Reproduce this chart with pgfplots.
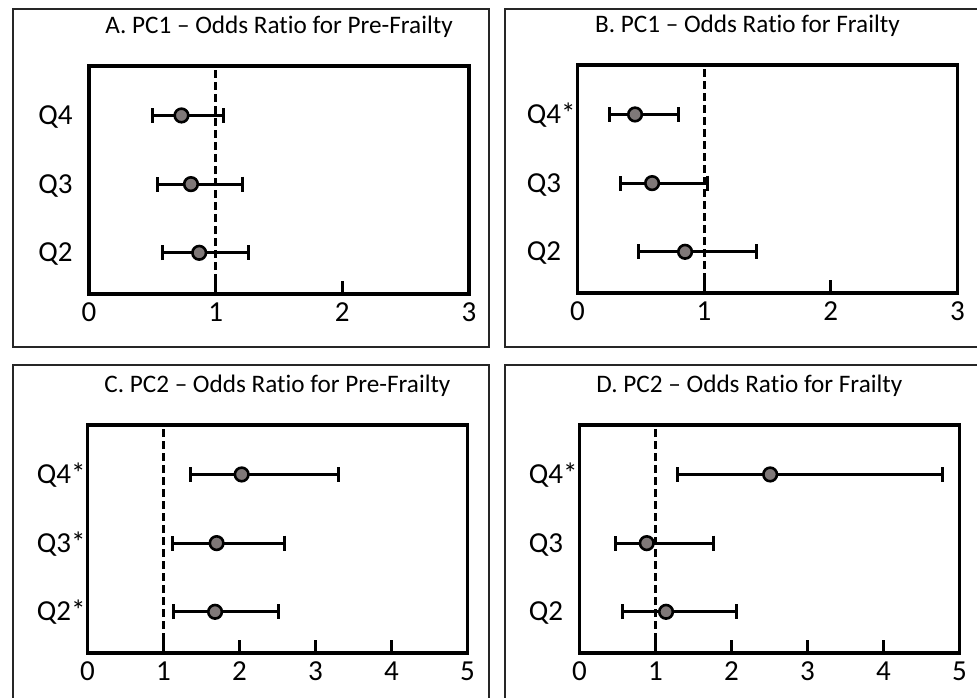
\documentclass[border=0pt]{standalone}
\usepackage{pgfplots}
\pgfplotsset{compat=1.18}
\usepackage{pgfplotstable}
\usepackage{fontspec}
\setmainfont[Ligatures=NoCommon]{Carlito}

\definecolor{markgray}{HTML}{7F7878}

% q = row (1 = Q2, 2 = Q3, 3 = Q4), or = odds ratio, lo/hi = 95% CI
\pgfplotstableread{
q  or    lo    hi
3  0.73  0.50  1.06
2  0.805 0.54  1.21
1  0.87  0.58  1.26
}\dataA
\pgfplotstableread{
q  or    lo    hi
3  0.455 0.25  0.80
2  0.59  0.34  1.03
1  0.85  0.48  1.41
}\dataB
\pgfplotstableread{
q  or    lo    hi
3  2.03  1.35  3.31
2  1.70  1.12  2.60
1  1.68  1.13  2.52
}\dataC
\pgfplotstableread{
q  or    lo    hi
3  2.51  1.29  4.78
2  0.886 0.48  1.77
1  1.14  0.57  2.07
}\dataD

\pgfplotsset{
  forest/.style={
    scale only axis,
    width=190pt, height=114pt,
    anchor=south west,
    axis line style={line width=1.6pt},
    ymin=0.4, ymax=3.72,
    xmin=0,
    ytick={1,2,3},
    ytick style={draw=none},
    xtick pos=left,
    tick align=inside,
    major tick length=6.5pt,
    xtick style={line width=1.5pt, black},
    tick label style={font=\fontsize{14.5}{16}\selectfont},
    yticklabel style={anchor=base west, inner sep=0pt, xshift=-25.5pt, yshift=-4.5pt},
    xticklabel style={anchor=base, inner sep=0pt, yshift=-13.8pt},
    /pgf/number format/assume math mode=true,
    title style={font=\fontsize{12.6}{14}\selectfont, at={(0.5,1)}, anchor=base, yshift=10.2pt},
    clip=false,
  },
  ci/.style={
    only marks,
    mark=*,
    mark size=3.4pt,
    mark options={fill=markgray, draw=black, line width=1.3pt},
    error bars/.cd,
      x dir=both, x explicit,
      error mark=|,
      error bar style={line width=1.6pt, black},
      error mark options={line width=1.5pt, black, mark size=3.7pt},
  },
  refline/.style={black, line width=1.5pt, dash pattern=on 4pt off 2pt, forget plot},
}

\newcommand{\ciplot}[1]{%
  \addplot[ci] table[x=or, y=q,
    x error plus expr=\thisrow{hi}-\thisrow{or},
    x error minus expr=\thisrow{or}-\thisrow{lo}] {#1};}

\begin{document}
\begin{tikzpicture}[x=1pt, y=1pt]
\useasboundingbox (0,0) rectangle (488.5,348.5);
% outer panel frames
\draw[line width=0.7pt, black!85] (6.5,175) rectangle (244.5,344);
\draw[line width=0.7pt, black!85] (252.5,175) rectangle (492,344);
\draw[line width=0.7pt, black!85] (6.5,-3) rectangle (244.5,166);
\draw[line width=0.7pt, black!85] (252.5,-3) rectangle (492,166);

% A
\begin{axis}[forest, at={(44.5pt,201.5pt)}, xmax=3, xtick={0,1,2,3},
  yticklabels={Q2,Q3,Q4},
  title={A. PC1 – Odds Ratio for Pre-Frailty}]
\addplot[refline] coordinates {(1,0.4) (1,3.72)};
\ciplot{\dataA}
\end{axis}

% B
\begin{axis}[forest, at={(288.7pt,202pt)}, xmax=3, xtick={0,1,2,3},
  yticklabels={Q2,Q3,Q4*},
  title style={xshift=-10pt},
  title={B. PC1 – Odds Ratio for Frailty}]
\addplot[refline] coordinates {(1,0.4) (1,3.72)};
\ciplot{\dataB}
\end{axis}

% C
\begin{axis}[forest, at={(43.7pt,22pt)}, xmax=5, xtick={0,1,2,3,4,5},
  yticklabels={Q2*,Q3*,Q4*},
  title={C. PC2 – Odds Ratio for Pre-Frailty}]
\addplot[refline] coordinates {(1,0.4) (1,3.72)};
\ciplot{\dataC}
\end{axis}

% D
\begin{axis}[forest, at={(289.7pt,22pt)}, xmax=5, xtick={0,1,2,3,4,5},
  yticklabels={Q2,Q3,Q4*},
  title style={xshift=-10pt},
  title={D. PC2 – Odds Ratio for Frailty}]
\addplot[refline] coordinates {(1,0.4) (1,3.72)};
\ciplot{\dataD}
\end{axis}
\end{tikzpicture}
\end{document}
